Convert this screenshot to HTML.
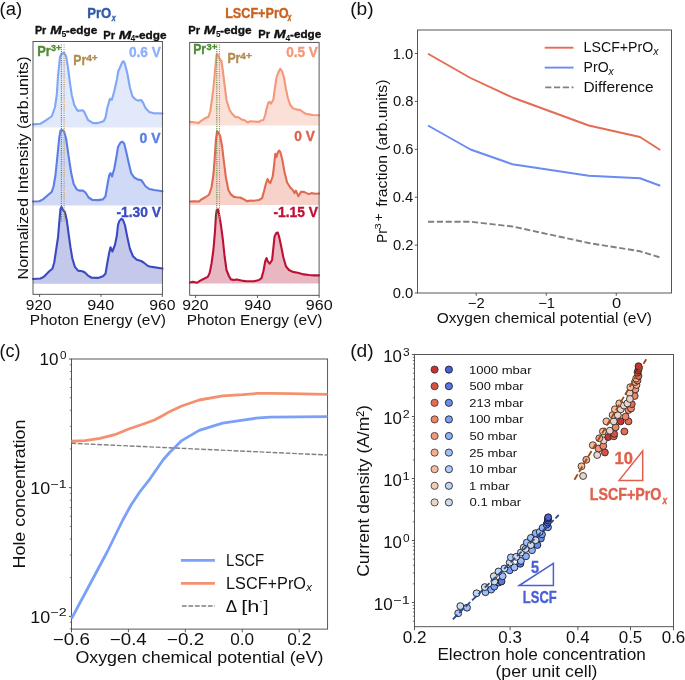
<!DOCTYPE html>
<html><head><meta charset="utf-8"><style>
html,body{margin:0;padding:0;background:#fff;overflow:hidden;}
svg{display:block;will-change:transform;}
text{font-family:"Liberation Sans",sans-serif;}
</style></head><body>
<svg width="685" height="680" viewBox="0 0 685 680">
<rect width="685" height="680" fill="#fff"/>
<polygon points="33.00,127.60 33.00,124.40 40.50,123.75 45.50,120.60 51.75,116.25 54.90,107.50 56.75,95.00 58.00,76.25 59.90,57.50 61.10,54.40 62.50,53.30 64.25,53.10 66.10,56.25 68.00,67.50 69.90,82.50 71.75,95.00 74.25,105.00 77.40,110.60 80.00,110.60 83.00,110.25 84.90,113.10 88.00,120.00 93.00,123.10 98.00,123.10 103.60,121.25 105.50,117.50 107.40,107.50 109.90,98.75 111.75,100.00 114.25,91.25 116.75,80.00 118.25,71.25 120.50,66.25 122.40,61.90 123.60,61.25 124.90,63.75 127.40,73.75 129.90,87.50 132.40,96.25 135.50,99.40 138.00,100.60 141.10,100.00 143.00,102.50 145.50,108.10 149.25,111.90 153.00,113.10 162.50,113.50 162.50,127.60" fill="#e2e9fb" stroke="none"/>
<polyline points="33.00,124.40 40.50,123.75 45.50,120.60 51.75,116.25 54.90,107.50 56.75,95.00 58.00,76.25 59.90,57.50 61.10,54.40 62.50,53.30 64.25,53.10 66.10,56.25 68.00,67.50 69.90,82.50 71.75,95.00 74.25,105.00 77.40,110.60 80.00,110.60 83.00,110.25 84.90,113.10 88.00,120.00 93.00,123.10 98.00,123.10 103.60,121.25 105.50,117.50 107.40,107.50 109.90,98.75 111.75,100.00 114.25,91.25 116.75,80.00 118.25,71.25 120.50,66.25 122.40,61.90 123.60,61.25 124.90,63.75 127.40,73.75 129.90,87.50 132.40,96.25 135.50,99.40 138.00,100.60 141.10,100.00 143.00,102.50 145.50,108.10 149.25,111.90 153.00,113.10 162.50,113.50" fill="none" stroke="#80a7f7" stroke-width="2.1" stroke-linejoin="round" stroke-linecap="round"/>
<polygon points="33.00,205.60 33.00,201.50 39.25,201.25 43.00,199.40 48.00,195.00 51.75,191.90 53.60,186.25 55.50,175.00 57.40,156.25 59.25,137.50 60.50,130.60 62.40,130.00 64.25,131.90 66.10,138.75 68.60,156.25 71.10,172.50 73.60,183.75 76.75,189.40 79.25,190.60 83.00,190.60 85.50,192.50 88.60,197.50 92.40,200.00 98.00,200.10 103.00,199.40 105.50,196.25 107.40,185.00 109.25,175.00 110.50,173.10 112.00,176.50 114.25,168.75 116.75,155.00 118.00,146.90 120.50,142.50 122.40,141.60 124.25,143.75 126.10,151.25 128.60,162.50 131.10,173.10 134.25,177.50 138.00,179.60 141.10,180.00 143.00,182.50 145.50,186.25 149.25,189.00 154.25,190.00 162.50,191.25 162.50,205.60" fill="#d0daf6" stroke="none"/>
<polyline points="33.00,201.50 39.25,201.25 43.00,199.40 48.00,195.00 51.75,191.90 53.60,186.25 55.50,175.00 57.40,156.25 59.25,137.50 60.50,130.60 62.40,130.00 64.25,131.90 66.10,138.75 68.60,156.25 71.10,172.50 73.60,183.75 76.75,189.40 79.25,190.60 83.00,190.60 85.50,192.50 88.60,197.50 92.40,200.00 98.00,200.10 103.00,199.40 105.50,196.25 107.40,185.00 109.25,175.00 110.50,173.10 112.00,176.50 114.25,168.75 116.75,155.00 118.00,146.90 120.50,142.50 122.40,141.60 124.25,143.75 126.10,151.25 128.60,162.50 131.10,173.10 134.25,177.50 138.00,179.60 141.10,180.00 143.00,182.50 145.50,186.25 149.25,189.00 154.25,190.00 162.50,191.25" fill="none" stroke="#5b7fe4" stroke-width="2.1" stroke-linejoin="round" stroke-linecap="round"/>
<polygon points="33.00,283.70 33.00,279.00 40.50,278.50 43.60,276.90 46.10,274.40 49.25,271.25 52.40,268.75 54.25,262.50 56.10,250.00 58.00,237.50 59.25,222.50 60.50,208.75 61.50,206.90 63.00,210.00 64.90,211.90 66.75,220.00 68.60,233.75 70.50,247.50 72.40,258.75 74.90,266.90 78.00,270.60 82.40,271.25 84.90,272.50 88.00,275.60 91.75,277.75 98.00,277.90 103.00,276.25 105.50,273.75 107.40,262.50 109.25,252.50 110.50,247.25 112.40,251.50 114.90,245.00 116.75,236.25 118.00,225.00 119.25,221.25 121.10,218.75 123.00,220.00 124.90,225.00 127.40,237.50 129.90,248.75 133.00,256.25 136.75,259.75 141.10,261.00 143.60,262.50 148.00,266.00 151.75,266.90 162.50,268.50 162.50,283.70" fill="#c4c8ea" stroke="none"/>
<polyline points="33.00,279.00 40.50,278.50 43.60,276.90 46.10,274.40 49.25,271.25 52.40,268.75 54.25,262.50 56.10,250.00 58.00,237.50 59.25,222.50 60.50,208.75 61.50,206.90 63.00,210.00 64.90,211.90 66.75,220.00 68.60,233.75 70.50,247.50 72.40,258.75 74.90,266.90 78.00,270.60 82.40,271.25 84.90,272.50 88.00,275.60 91.75,277.75 98.00,277.90 103.00,276.25 105.50,273.75 107.40,262.50 109.25,252.50 110.50,247.25 112.40,251.50 114.90,245.00 116.75,236.25 118.00,225.00 119.25,221.25 121.10,218.75 123.00,220.00 124.90,225.00 127.40,237.50 129.90,248.75 133.00,256.25 136.75,259.75 141.10,261.00 143.60,262.50 148.00,266.00 151.75,266.90 162.50,268.50" fill="none" stroke="#3a4bc2" stroke-width="2.1" stroke-linejoin="round" stroke-linecap="round"/>
<polygon points="190.00,125.40 190.00,121.90 194.00,122.25 196.00,122.50 198.40,123.10 201.50,120.60 205.25,118.10 208.40,116.90 210.25,111.25 212.10,98.75 214.00,82.50 215.25,67.50 216.50,55.00 217.75,54.40 219.60,58.75 221.50,61.25 222.75,70.00 224.60,85.00 226.50,100.00 228.40,106.25 229.60,110.00 232.10,113.75 235.25,116.90 238.40,117.25 241.50,119.40 245.25,120.60 247.75,122.50 250.25,121.25 254.00,121.50 259.00,121.90 260.90,120.60 263.40,120.00 265.25,115.00 266.50,108.75 268.40,102.50 269.60,101.90 270.90,103.75 273.40,99.40 274.60,90.00 276.50,77.50 278.40,72.50 280.25,68.75 282.10,71.25 284.00,77.50 285.90,88.75 287.75,97.50 290.25,105.00 292.75,108.10 295.90,109.40 300.25,110.00 302.75,111.90 305.25,113.50 309.00,114.40 312.75,115.00 319.00,115.25 319.00,125.40" fill="#fbe0d7" stroke="none"/>
<polyline points="190.00,121.90 194.00,122.25 196.00,122.50 198.40,123.10 201.50,120.60 205.25,118.10 208.40,116.90 210.25,111.25 212.10,98.75 214.00,82.50 215.25,67.50 216.50,55.00 217.75,54.40 219.60,58.75 221.50,61.25 222.75,70.00 224.60,85.00 226.50,100.00 228.40,106.25 229.60,110.00 232.10,113.75 235.25,116.90 238.40,117.25 241.50,119.40 245.25,120.60 247.75,122.50 250.25,121.25 254.00,121.50 259.00,121.90 260.90,120.60 263.40,120.00 265.25,115.00 266.50,108.75 268.40,102.50 269.60,101.90 270.90,103.75 273.40,99.40 274.60,90.00 276.50,77.50 278.40,72.50 280.25,68.75 282.10,71.25 284.00,77.50 285.90,88.75 287.75,97.50 290.25,105.00 292.75,108.10 295.90,109.40 300.25,110.00 302.75,111.90 305.25,113.50 309.00,114.40 312.75,115.00 319.00,115.25" fill="none" stroke="#f4987a" stroke-width="2.1" stroke-linejoin="round" stroke-linecap="round"/>
<polygon points="190.00,205.00 190.00,201.50 194.00,201.25 199.00,201.50 201.50,199.40 205.25,197.25 209.00,194.75 211.50,187.50 213.40,175.00 214.60,160.00 215.90,140.00 217.10,131.25 218.40,132.50 220.25,136.25 222.10,146.25 224.00,162.50 225.90,177.50 228.40,190.00 230.90,194.40 234.00,196.90 236.50,197.25 240.25,197.50 244.00,199.40 247.10,201.25 250.25,200.60 254.00,200.70 259.00,200.00 262.10,198.10 264.00,191.25 265.90,183.75 267.50,179.00 269.00,181.90 270.25,183.10 272.75,176.25 274.00,166.25 275.25,153.75 276.50,156.90 277.75,152.50 279.00,150.60 280.25,151.90 282.10,158.75 284.60,172.50 287.10,182.50 290.25,187.50 292.75,190.00 294.60,193.10 295.90,190.60 298.40,196.25 300.90,191.90 304.00,191.90 306.50,193.10 309.00,194.10 311.50,193.10 315.25,193.75 319.00,193.50 319.00,205.00" fill="#f6d2ca" stroke="none"/>
<polyline points="190.00,201.50 194.00,201.25 199.00,201.50 201.50,199.40 205.25,197.25 209.00,194.75 211.50,187.50 213.40,175.00 214.60,160.00 215.90,140.00 217.10,131.25 218.40,132.50 220.25,136.25 222.10,146.25 224.00,162.50 225.90,177.50 228.40,190.00 230.90,194.40 234.00,196.90 236.50,197.25 240.25,197.50 244.00,199.40 247.10,201.25 250.25,200.60 254.00,200.70 259.00,200.00 262.10,198.10 264.00,191.25 265.90,183.75 267.50,179.00 269.00,181.90 270.25,183.10 272.75,176.25 274.00,166.25 275.25,153.75 276.50,156.90 277.75,152.50 279.00,150.60 280.25,151.90 282.10,158.75 284.60,172.50 287.10,182.50 290.25,187.50 292.75,190.00 294.60,193.10 295.90,190.60 298.40,196.25 300.90,191.90 304.00,191.90 306.50,193.10 309.00,194.10 311.50,193.10 315.25,193.75 319.00,193.50" fill="none" stroke="#e06a50" stroke-width="2.1" stroke-linejoin="round" stroke-linecap="round"/>
<polygon points="190.00,283.60 190.00,282.50 192.75,281.90 197.10,282.75 200.25,280.60 203.40,279.00 207.75,276.90 209.60,273.10 211.50,263.75 213.40,250.00 215.00,231.25 215.90,216.25 216.75,210.00 218.00,209.40 219.00,213.75 220.90,225.00 222.75,238.75 224.60,256.25 226.50,270.00 229.00,276.25 230.90,279.40 234.00,280.00 236.50,279.40 241.50,280.60 246.50,281.25 254.00,281.30 259.00,280.00 261.50,278.10 263.40,271.25 265.25,261.25 266.50,258.10 267.75,261.25 269.60,263.75 272.10,260.00 273.40,247.50 274.60,236.25 276.50,232.75 277.75,232.50 279.00,236.25 280.90,245.00 283.40,257.50 285.90,266.25 289.00,270.00 292.75,271.90 297.75,272.75 304.00,274.40 309.00,275.00 314.00,275.40 319.00,275.40 319.00,283.60" fill="#e8b7c2" stroke="none"/>
<polyline points="190.00,282.50 192.75,281.90 197.10,282.75 200.25,280.60 203.40,279.00 207.75,276.90 209.60,273.10 211.50,263.75 213.40,250.00 215.00,231.25 215.90,216.25 216.75,210.00 218.00,209.40 219.00,213.75 220.90,225.00 222.75,238.75 224.60,256.25 226.50,270.00 229.00,276.25 230.90,279.40 234.00,280.00 236.50,279.40 241.50,280.60 246.50,281.25 254.00,281.30 259.00,280.00 261.50,278.10 263.40,271.25 265.25,261.25 266.50,258.10 267.75,261.25 269.60,263.75 272.10,260.00 273.40,247.50 274.60,236.25 276.50,232.75 277.75,232.50 279.00,236.25 280.90,245.00 283.40,257.50 285.90,266.25 289.00,270.00 292.75,271.90 297.75,272.75 304.00,274.40 309.00,275.00 314.00,275.40 319.00,275.40" fill="none" stroke="#bd1034" stroke-width="2.1" stroke-linejoin="round" stroke-linecap="round"/>
<line x1="61.4" y1="44.5" x2="61.4" y2="222.0" stroke="#4e8a3a" stroke-width="1.1" stroke-dasharray="1.1,1.1"/>
<line x1="64.1" y1="44.5" x2="64.1" y2="222.0" stroke="#b8925a" stroke-width="1.1" stroke-dasharray="1.1,1.1"/>
<line x1="216.8" y1="44.5" x2="216.8" y2="220.6" stroke="#4e8a3a" stroke-width="1.1" stroke-dasharray="1.1,1.1"/>
<line x1="219.5" y1="44.5" x2="219.5" y2="220.6" stroke="#b8925a" stroke-width="1.1" stroke-dasharray="1.1,1.1"/>
<rect x="33" y="41.5" width="129.4" height="252.8" fill="none" stroke="#454545" stroke-width="0.9"/>
<rect x="189.7" y="42.4" width="129.4" height="252.9" fill="none" stroke="#454545" stroke-width="0.9"/>
<line x1="39.6" y1="294.3" x2="39.6" y2="296.9" stroke="#454545" stroke-width="0.9"/>
<line x1="101" y1="294.3" x2="101" y2="296.9" stroke="#454545" stroke-width="0.9"/>
<line x1="162.3" y1="294.3" x2="162.3" y2="296.9" stroke="#454545" stroke-width="0.9"/>
<line x1="195.6" y1="295.3" x2="195.6" y2="297.9" stroke="#454545" stroke-width="0.9"/>
<line x1="257.5" y1="295.3" x2="257.5" y2="297.9" stroke="#454545" stroke-width="0.9"/>
<line x1="319.1" y1="295.3" x2="319.1" y2="297.9" stroke="#454545" stroke-width="0.9"/>
<rect x="417.5" y="30" width="254" height="263" fill="none" stroke="#454545" stroke-width="0.9"/>
<line x1="414.8" y1="293.00" x2="417.5" y2="293.00" stroke="#454545" stroke-width="0.9"/>
<line x1="414.8" y1="245.10" x2="417.5" y2="245.10" stroke="#454545" stroke-width="0.9"/>
<line x1="414.8" y1="197.20" x2="417.5" y2="197.20" stroke="#454545" stroke-width="0.9"/>
<line x1="414.8" y1="149.30" x2="417.5" y2="149.30" stroke="#454545" stroke-width="0.9"/>
<line x1="414.8" y1="101.40" x2="417.5" y2="101.40" stroke="#454545" stroke-width="0.9"/>
<line x1="414.8" y1="53.50" x2="417.5" y2="53.50" stroke="#454545" stroke-width="0.9"/>
<line x1="476.25" y1="293" x2="476.25" y2="295.8" stroke="#454545" stroke-width="0.9"/>
<line x1="546.25" y1="293" x2="546.25" y2="295.8" stroke="#454545" stroke-width="0.9"/>
<line x1="616.25" y1="293" x2="616.25" y2="295.8" stroke="#454545" stroke-width="0.9"/>
<polyline points="428.00,53.75 470.50,78.00 512.50,97.50 588.75,125.50 640.00,137.00 660.25,150.00" fill="none" stroke="#e36c55" stroke-width="1.9" stroke-linejoin="round"/>
<polyline points="428.00,125.50 470.50,149.50 512.50,164.25 588.75,175.75 640.00,178.25 660.25,185.75" fill="none" stroke="#6a8bef" stroke-width="1.9" stroke-linejoin="round"/>
<polyline points="428.00,221.75 470.50,221.75 512.50,226.50 588.75,243.00 640.00,251.25 660.25,257.50" fill="none" stroke="#808080" stroke-width="1.9" stroke-dasharray="6.2,2.6"/>
<line x1="544.7" y1="47.7" x2="573.5" y2="47.7" stroke="#e36c55" stroke-width="1.9"/>
<line x1="544.7" y1="67.6" x2="573.5" y2="67.6" stroke="#6a8bef" stroke-width="1.9"/>
<line x1="545.2" y1="87.4" x2="573.5" y2="87.4" stroke="#808080" stroke-width="1.9" stroke-dasharray="6.2,2.6"/>
<rect x="71.5" y="359.0" width="256.1" height="270.1" fill="none" stroke="#454545" stroke-width="0.9"/>
<line x1="68.9" y1="359.00" x2="71.5" y2="359.00" stroke="#454545" stroke-width="0.9"/>
<line x1="68.9" y1="487.70" x2="71.5" y2="487.70" stroke="#454545" stroke-width="0.9"/>
<line x1="68.9" y1="616.40" x2="71.5" y2="616.40" stroke="#454545" stroke-width="0.9"/>
<line x1="69.8" y1="628.87" x2="71.5" y2="628.87" stroke="#454545" stroke-width="0.7"/>
<line x1="69.8" y1="622.29" x2="71.5" y2="622.29" stroke="#454545" stroke-width="0.7"/>
<line x1="69.8" y1="577.66" x2="71.5" y2="577.66" stroke="#454545" stroke-width="0.7"/>
<line x1="69.8" y1="554.99" x2="71.5" y2="554.99" stroke="#454545" stroke-width="0.7"/>
<line x1="69.8" y1="538.91" x2="71.5" y2="538.91" stroke="#454545" stroke-width="0.7"/>
<line x1="69.8" y1="526.44" x2="71.5" y2="526.44" stroke="#454545" stroke-width="0.7"/>
<line x1="69.8" y1="516.25" x2="71.5" y2="516.25" stroke="#454545" stroke-width="0.7"/>
<line x1="69.8" y1="507.64" x2="71.5" y2="507.64" stroke="#454545" stroke-width="0.7"/>
<line x1="69.8" y1="500.17" x2="71.5" y2="500.17" stroke="#454545" stroke-width="0.7"/>
<line x1="69.8" y1="493.59" x2="71.5" y2="493.59" stroke="#454545" stroke-width="0.7"/>
<line x1="69.8" y1="448.96" x2="71.5" y2="448.96" stroke="#454545" stroke-width="0.7"/>
<line x1="69.8" y1="426.29" x2="71.5" y2="426.29" stroke="#454545" stroke-width="0.7"/>
<line x1="69.8" y1="410.21" x2="71.5" y2="410.21" stroke="#454545" stroke-width="0.7"/>
<line x1="69.8" y1="397.74" x2="71.5" y2="397.74" stroke="#454545" stroke-width="0.7"/>
<line x1="69.8" y1="387.55" x2="71.5" y2="387.55" stroke="#454545" stroke-width="0.7"/>
<line x1="69.8" y1="378.94" x2="71.5" y2="378.94" stroke="#454545" stroke-width="0.7"/>
<line x1="69.8" y1="371.47" x2="71.5" y2="371.47" stroke="#454545" stroke-width="0.7"/>
<line x1="69.8" y1="364.89" x2="71.5" y2="364.89" stroke="#454545" stroke-width="0.7"/>
<line x1="71.50" y1="629.1" x2="71.50" y2="632.3" stroke="#454545" stroke-width="0.9"/>
<line x1="128.42" y1="629.1" x2="128.42" y2="632.3" stroke="#454545" stroke-width="0.9"/>
<line x1="185.34" y1="629.1" x2="185.34" y2="632.3" stroke="#454545" stroke-width="0.9"/>
<line x1="242.26" y1="629.1" x2="242.26" y2="632.3" stroke="#454545" stroke-width="0.9"/>
<line x1="299.18" y1="629.1" x2="299.18" y2="632.3" stroke="#454545" stroke-width="0.9"/>
<polyline points="71.40,441.25 85.00,440.60 100.00,438.40 114.70,434.70 129.40,428.80 144.10,423.70 154.40,420.00 162.00,416.00 170.00,411.40 181.70,406.00 199.20,400.00 222.60,395.80 243.00,394.60 257.60,393.40 270.00,393.30 290.00,393.70 327.50,394.30" fill="none" stroke="#f4906f" stroke-width="2.8" stroke-linejoin="round"/>
<polyline points="71.50,618.60 87.50,588.75 107.50,551.25 122.80,520.00 130.90,505.30 139.70,492.00 150.00,478.80 163.20,459.70 170.00,452.00 173.50,448.70 181.70,440.60 199.20,430.40 222.60,423.10 243.00,420.10 256.10,418.20 270.00,417.20 327.50,416.60" fill="none" stroke="#7ba0f8" stroke-width="2.8" stroke-linejoin="round"/>
<line x1="71.3" y1="443.3" x2="327.5" y2="455" stroke="#808080" stroke-width="1.4" stroke-dasharray="4.8,1.7"/>
<line x1="180.9" y1="560.3" x2="214.9" y2="560.3" stroke="#7ba0f8" stroke-width="2.8"/>
<line x1="180.9" y1="583.3" x2="214.9" y2="583.3" stroke="#f4906f" stroke-width="2.8"/>
<line x1="181.9" y1="606" x2="214.9" y2="606" stroke="#808080" stroke-width="1.4" stroke-dasharray="4.8,1.7"/>
<rect x="414.5" y="354.5" width="259" height="272.2" fill="none" stroke="#454545" stroke-width="0.9"/>
<line x1="411.9" y1="354.50" x2="414.5" y2="354.50" stroke="#454545" stroke-width="0.9"/>
<line x1="411.9" y1="416.50" x2="414.5" y2="416.50" stroke="#454545" stroke-width="0.9"/>
<line x1="411.9" y1="478.50" x2="414.5" y2="478.50" stroke="#454545" stroke-width="0.9"/>
<line x1="411.9" y1="540.50" x2="414.5" y2="540.50" stroke="#454545" stroke-width="0.9"/>
<line x1="411.9" y1="602.50" x2="414.5" y2="602.50" stroke="#454545" stroke-width="0.9"/>
<line x1="412.8" y1="621.16" x2="414.5" y2="621.16" stroke="#454545" stroke-width="0.7"/>
<line x1="412.8" y1="616.25" x2="414.5" y2="616.25" stroke="#454545" stroke-width="0.7"/>
<line x1="412.8" y1="612.10" x2="414.5" y2="612.10" stroke="#454545" stroke-width="0.7"/>
<line x1="412.8" y1="608.51" x2="414.5" y2="608.51" stroke="#454545" stroke-width="0.7"/>
<line x1="412.8" y1="605.34" x2="414.5" y2="605.34" stroke="#454545" stroke-width="0.7"/>
<line x1="412.8" y1="583.84" x2="414.5" y2="583.84" stroke="#454545" stroke-width="0.7"/>
<line x1="412.8" y1="572.92" x2="414.5" y2="572.92" stroke="#454545" stroke-width="0.7"/>
<line x1="412.8" y1="565.17" x2="414.5" y2="565.17" stroke="#454545" stroke-width="0.7"/>
<line x1="412.8" y1="559.16" x2="414.5" y2="559.16" stroke="#454545" stroke-width="0.7"/>
<line x1="412.8" y1="554.25" x2="414.5" y2="554.25" stroke="#454545" stroke-width="0.7"/>
<line x1="412.8" y1="550.10" x2="414.5" y2="550.10" stroke="#454545" stroke-width="0.7"/>
<line x1="412.8" y1="546.51" x2="414.5" y2="546.51" stroke="#454545" stroke-width="0.7"/>
<line x1="412.8" y1="543.34" x2="414.5" y2="543.34" stroke="#454545" stroke-width="0.7"/>
<line x1="412.8" y1="521.84" x2="414.5" y2="521.84" stroke="#454545" stroke-width="0.7"/>
<line x1="412.8" y1="510.92" x2="414.5" y2="510.92" stroke="#454545" stroke-width="0.7"/>
<line x1="412.8" y1="503.17" x2="414.5" y2="503.17" stroke="#454545" stroke-width="0.7"/>
<line x1="412.8" y1="497.16" x2="414.5" y2="497.16" stroke="#454545" stroke-width="0.7"/>
<line x1="412.8" y1="492.25" x2="414.5" y2="492.25" stroke="#454545" stroke-width="0.7"/>
<line x1="412.8" y1="488.10" x2="414.5" y2="488.10" stroke="#454545" stroke-width="0.7"/>
<line x1="412.8" y1="484.51" x2="414.5" y2="484.51" stroke="#454545" stroke-width="0.7"/>
<line x1="412.8" y1="481.34" x2="414.5" y2="481.34" stroke="#454545" stroke-width="0.7"/>
<line x1="412.8" y1="459.84" x2="414.5" y2="459.84" stroke="#454545" stroke-width="0.7"/>
<line x1="412.8" y1="448.92" x2="414.5" y2="448.92" stroke="#454545" stroke-width="0.7"/>
<line x1="412.8" y1="441.17" x2="414.5" y2="441.17" stroke="#454545" stroke-width="0.7"/>
<line x1="412.8" y1="435.16" x2="414.5" y2="435.16" stroke="#454545" stroke-width="0.7"/>
<line x1="412.8" y1="430.25" x2="414.5" y2="430.25" stroke="#454545" stroke-width="0.7"/>
<line x1="412.8" y1="426.10" x2="414.5" y2="426.10" stroke="#454545" stroke-width="0.7"/>
<line x1="412.8" y1="422.51" x2="414.5" y2="422.51" stroke="#454545" stroke-width="0.7"/>
<line x1="412.8" y1="419.34" x2="414.5" y2="419.34" stroke="#454545" stroke-width="0.7"/>
<line x1="412.8" y1="397.84" x2="414.5" y2="397.84" stroke="#454545" stroke-width="0.7"/>
<line x1="412.8" y1="386.92" x2="414.5" y2="386.92" stroke="#454545" stroke-width="0.7"/>
<line x1="412.8" y1="379.17" x2="414.5" y2="379.17" stroke="#454545" stroke-width="0.7"/>
<line x1="412.8" y1="373.16" x2="414.5" y2="373.16" stroke="#454545" stroke-width="0.7"/>
<line x1="412.8" y1="368.25" x2="414.5" y2="368.25" stroke="#454545" stroke-width="0.7"/>
<line x1="412.8" y1="364.10" x2="414.5" y2="364.10" stroke="#454545" stroke-width="0.7"/>
<line x1="412.8" y1="360.51" x2="414.5" y2="360.51" stroke="#454545" stroke-width="0.7"/>
<line x1="412.8" y1="357.34" x2="414.5" y2="357.34" stroke="#454545" stroke-width="0.7"/>
<line x1="414.50" y1="626.7" x2="414.50" y2="630.2" stroke="#454545" stroke-width="0.9"/>
<line x1="510.08" y1="626.7" x2="510.08" y2="630.2" stroke="#454545" stroke-width="0.9"/>
<line x1="577.90" y1="626.7" x2="577.90" y2="630.2" stroke="#454545" stroke-width="0.9"/>
<line x1="630.50" y1="626.7" x2="630.50" y2="630.2" stroke="#454545" stroke-width="0.9"/>
<line x1="673.48" y1="626.7" x2="673.48" y2="630.2" stroke="#454545" stroke-width="0.9"/>
<circle cx="583.1" cy="476.0" r="3.45" fill="#e9d5cb" stroke="#222" stroke-width="0.85"/>
<circle cx="581.5" cy="466.3" r="3.45" fill="#f6bda2" stroke="#222" stroke-width="0.85"/>
<circle cx="586.3" cy="459.8" r="3.45" fill="#f7ac8e" stroke="#222" stroke-width="0.85"/>
<circle cx="597.2" cy="455.0" r="3.45" fill="#e9d5cb" stroke="#222" stroke-width="0.85"/>
<circle cx="604.9" cy="452.5" r="3.45" fill="#d65244" stroke="#222" stroke-width="0.85"/>
<circle cx="598.5" cy="448.5" r="3.45" fill="#f4987a" stroke="#222" stroke-width="0.85"/>
<circle cx="603.3" cy="446.0" r="3.45" fill="#ee8468" stroke="#222" stroke-width="0.85"/>
<circle cx="592.8" cy="445.2" r="3.45" fill="#f6bda2" stroke="#222" stroke-width="0.85"/>
<circle cx="603.7" cy="440.4" r="3.45" fill="#e9d5cb" stroke="#222" stroke-width="0.85"/>
<circle cx="599.3" cy="438.3" r="3.45" fill="#f7ac8e" stroke="#222" stroke-width="0.85"/>
<circle cx="608.2" cy="437.1" r="3.45" fill="#c53334" stroke="#222" stroke-width="0.85"/>
<circle cx="613.8" cy="436.3" r="3.45" fill="#e36c55" stroke="#222" stroke-width="0.85"/>
<circle cx="614.1" cy="433.9" r="3.45" fill="#d65244" stroke="#222" stroke-width="0.85"/>
<circle cx="624.4" cy="431.5" r="3.45" fill="#e36c55" stroke="#222" stroke-width="0.85"/>
<circle cx="602.9" cy="431.5" r="3.45" fill="#f6bda2" stroke="#222" stroke-width="0.85"/>
<circle cx="609.8" cy="430.7" r="3.45" fill="#e9d5cb" stroke="#222" stroke-width="0.85"/>
<circle cx="615.6" cy="427.3" r="3.45" fill="#ee8468" stroke="#222" stroke-width="0.85"/>
<circle cx="620.7" cy="421.4" r="3.45" fill="#c53334" stroke="#222" stroke-width="0.85"/>
<circle cx="628.5" cy="421.4" r="3.45" fill="#e36c55" stroke="#222" stroke-width="0.85"/>
<circle cx="606.4" cy="421.4" r="3.45" fill="#f6bda2" stroke="#222" stroke-width="0.85"/>
<circle cx="613.75" cy="421.4" r="3.45" fill="#e9d5cb" stroke="#222" stroke-width="0.85"/>
<circle cx="625.5" cy="416.6" r="3.45" fill="#ee8468" stroke="#222" stroke-width="0.85"/>
<circle cx="612.6" cy="415.1" r="3.45" fill="#f6bda2" stroke="#222" stroke-width="0.85"/>
<circle cx="617.8" cy="415.1" r="3.45" fill="#e9d5cb" stroke="#222" stroke-width="0.85"/>
<circle cx="628.5" cy="410.0" r="3.45" fill="#f4987a" stroke="#222" stroke-width="0.85"/>
<circle cx="631.0" cy="408.5" r="3.45" fill="#ee8468" stroke="#222" stroke-width="0.85"/>
<circle cx="614.9" cy="409.3" r="3.45" fill="#f6bda2" stroke="#222" stroke-width="0.85"/>
<circle cx="620.7" cy="409.3" r="3.45" fill="#e9d5cb" stroke="#222" stroke-width="0.85"/>
<circle cx="631.8" cy="404.1" r="3.45" fill="#e36c55" stroke="#222" stroke-width="0.85"/>
<circle cx="619.3" cy="403.4" r="3.45" fill="#f6bda2" stroke="#222" stroke-width="0.85"/>
<circle cx="624.0" cy="405.6" r="3.45" fill="#e9d5cb" stroke="#222" stroke-width="0.85"/>
<circle cx="627.4" cy="403.4" r="3.45" fill="#e9d5cb" stroke="#222" stroke-width="0.85"/>
<circle cx="634.7" cy="396.0" r="3.45" fill="#ee8468" stroke="#222" stroke-width="0.85"/>
<circle cx="629.6" cy="393.1" r="3.45" fill="#f2cbb7" stroke="#222" stroke-width="0.85"/>
<circle cx="629.9" cy="399.0" r="3.45" fill="#e9d5cb" stroke="#222" stroke-width="0.85"/>
<circle cx="635.4" cy="389.4" r="3.45" fill="#f4987a" stroke="#222" stroke-width="0.85"/>
<circle cx="630.3" cy="387.2" r="3.45" fill="#f6bda2" stroke="#222" stroke-width="0.85"/>
<circle cx="636.5" cy="385.0" r="3.45" fill="#f7ac8e" stroke="#222" stroke-width="0.85"/>
<circle cx="635.0" cy="382.0" r="3.45" fill="#f7ac8e" stroke="#222" stroke-width="0.85"/>
<circle cx="637.5" cy="380.5" r="3.45" fill="#ee8468" stroke="#222" stroke-width="0.85"/>
<circle cx="636.2" cy="378.5" r="3.45" fill="#f6bda2" stroke="#222" stroke-width="0.85"/>
<circle cx="638.5" cy="376.0" r="3.45" fill="#e36c55" stroke="#222" stroke-width="0.85"/>
<circle cx="637.6" cy="372.6" r="3.45" fill="#d65244" stroke="#222" stroke-width="0.85"/>
<circle cx="638.2" cy="370.3" r="3.45" fill="#c53334" stroke="#222" stroke-width="0.85"/>
<circle cx="639.0" cy="368.0" r="3.45" fill="#d65244" stroke="#222" stroke-width="0.85"/>
<circle cx="638.5" cy="366.2" r="3.45" fill="#c53334" stroke="#222" stroke-width="0.85"/>
<line x1="574.4" y1="479.75" x2="646.25" y2="359.25" stroke="#9c4a14" stroke-width="1.8" stroke-dasharray="6.5,2.5"/>
<circle cx="458.2" cy="613.3" r="3.45" fill="#afcafc" stroke="#111" stroke-width="0.85"/>
<circle cx="460.3" cy="606.1" r="3.45" fill="#cfdaea" stroke="#111" stroke-width="0.85"/>
<circle cx="467.0" cy="607.7" r="3.45" fill="#9ebeff" stroke="#111" stroke-width="0.85"/>
<circle cx="476.6" cy="593.3" r="3.45" fill="#c0d4f5" stroke="#111" stroke-width="0.85"/>
<circle cx="485.5" cy="592.2" r="3.45" fill="#9ebeff" stroke="#111" stroke-width="0.85"/>
<circle cx="484.8" cy="587.1" r="3.45" fill="#cfdaea" stroke="#111" stroke-width="0.85"/>
<circle cx="491.2" cy="589.6" r="3.45" fill="#8db0fe" stroke="#111" stroke-width="0.85"/>
<circle cx="494.3" cy="586.6" r="3.45" fill="#7b9ff9" stroke="#111" stroke-width="0.85"/>
<circle cx="498.5" cy="582.6" r="3.45" fill="#6a8bef" stroke="#111" stroke-width="0.85"/>
<circle cx="501.5" cy="581.5" r="3.45" fill="#5977e3" stroke="#111" stroke-width="0.85"/>
<circle cx="494.4" cy="581.5" r="3.45" fill="#cfdaea" stroke="#111" stroke-width="0.85"/>
<circle cx="502.6" cy="576.2" r="3.45" fill="#9ebeff" stroke="#111" stroke-width="0.85"/>
<circle cx="493.8" cy="576.2" r="3.45" fill="#cfdaea" stroke="#111" stroke-width="0.85"/>
<circle cx="509.7" cy="570.3" r="3.45" fill="#7b9ff9" stroke="#111" stroke-width="0.85"/>
<circle cx="504.4" cy="568.5" r="3.45" fill="#c0d4f5" stroke="#111" stroke-width="0.85"/>
<circle cx="498.5" cy="571.5" r="3.45" fill="#c0d4f5" stroke="#111" stroke-width="0.85"/>
<circle cx="514.4" cy="567.4" r="3.45" fill="#9ebeff" stroke="#111" stroke-width="0.85"/>
<circle cx="520.3" cy="563.8" r="3.45" fill="#5977e3" stroke="#111" stroke-width="0.85"/>
<circle cx="520.9" cy="560.9" r="3.45" fill="#9ebeff" stroke="#111" stroke-width="0.85"/>
<circle cx="509.7" cy="562.6" r="3.45" fill="#cfdaea" stroke="#111" stroke-width="0.85"/>
<circle cx="510.9" cy="557.4" r="3.45" fill="#afcafc" stroke="#111" stroke-width="0.85"/>
<circle cx="516.2" cy="556.8" r="3.45" fill="#cfdaea" stroke="#111" stroke-width="0.85"/>
<circle cx="526.0" cy="556.3" r="3.45" fill="#8db0fe" stroke="#111" stroke-width="0.85"/>
<circle cx="532.0" cy="550.2" r="3.45" fill="#8db0fe" stroke="#111" stroke-width="0.85"/>
<circle cx="537.4" cy="545.0" r="3.45" fill="#6a8bef" stroke="#111" stroke-width="0.85"/>
<circle cx="520.9" cy="552.6" r="3.45" fill="#cfdaea" stroke="#111" stroke-width="0.85"/>
<circle cx="523.8" cy="547.4" r="3.45" fill="#cfdaea" stroke="#111" stroke-width="0.85"/>
<circle cx="525.6" cy="549.0" r="3.45" fill="#cfdaea" stroke="#111" stroke-width="0.85"/>
<circle cx="526.8" cy="542.6" r="3.45" fill="#9ebeff" stroke="#111" stroke-width="0.85"/>
<circle cx="530.9" cy="545.0" r="3.45" fill="#cfdaea" stroke="#111" stroke-width="0.85"/>
<circle cx="540.9" cy="538.5" r="3.45" fill="#6a8bef" stroke="#111" stroke-width="0.85"/>
<circle cx="530.9" cy="537.9" r="3.45" fill="#9ebeff" stroke="#111" stroke-width="0.85"/>
<circle cx="535.6" cy="540.2" r="3.45" fill="#cfdaea" stroke="#111" stroke-width="0.85"/>
<circle cx="542.0" cy="534.4" r="3.45" fill="#7b9ff9" stroke="#111" stroke-width="0.85"/>
<circle cx="535.6" cy="533.2" r="3.45" fill="#8db0fe" stroke="#111" stroke-width="0.85"/>
<circle cx="539.7" cy="532.0" r="3.45" fill="#9ebeff" stroke="#111" stroke-width="0.85"/>
<circle cx="548.0" cy="527.3" r="3.45" fill="#7b9ff9" stroke="#111" stroke-width="0.85"/>
<circle cx="542.6" cy="527.9" r="3.45" fill="#8db0fe" stroke="#111" stroke-width="0.85"/>
<circle cx="546.6" cy="524.5" r="3.45" fill="#6a8bef" stroke="#111" stroke-width="0.85"/>
<circle cx="547.5" cy="522.5" r="3.45" fill="#5977e3" stroke="#111" stroke-width="0.85"/>
<circle cx="548.0" cy="520.5" r="3.45" fill="#4961d2" stroke="#111" stroke-width="0.85"/>
<circle cx="547.9" cy="518.5" r="3.45" fill="#5977e3" stroke="#111" stroke-width="0.85"/>
<circle cx="548.2" cy="517.3" r="3.45" fill="#4961d2" stroke="#111" stroke-width="0.85"/>
<line x1="452.8" y1="619.3" x2="558.75" y2="515" stroke="#2c4a86" stroke-width="1.8" stroke-dasharray="6.5,2.5"/>
<circle cx="434.6" cy="369.6" r="3.6" fill="#c53334" stroke="#333" stroke-width="0.8"/>
<circle cx="448.9" cy="369.6" r="3.6" fill="#4961d2" stroke="#111" stroke-width="0.8"/>
<circle cx="434.6" cy="386.2" r="3.6" fill="#d65244" stroke="#333" stroke-width="0.8"/>
<circle cx="448.9" cy="386.2" r="3.6" fill="#5977e3" stroke="#111" stroke-width="0.8"/>
<circle cx="434.6" cy="402.8" r="3.6" fill="#e36c55" stroke="#333" stroke-width="0.8"/>
<circle cx="448.9" cy="402.8" r="3.6" fill="#6a8bef" stroke="#111" stroke-width="0.8"/>
<circle cx="434.6" cy="419.4" r="3.6" fill="#ee8468" stroke="#333" stroke-width="0.8"/>
<circle cx="448.9" cy="419.4" r="3.6" fill="#7b9ff9" stroke="#111" stroke-width="0.8"/>
<circle cx="434.6" cy="436.0" r="3.6" fill="#f4987a" stroke="#333" stroke-width="0.8"/>
<circle cx="448.9" cy="436.0" r="3.6" fill="#8db0fe" stroke="#111" stroke-width="0.8"/>
<circle cx="434.6" cy="452.6" r="3.6" fill="#f7ac8e" stroke="#333" stroke-width="0.8"/>
<circle cx="448.9" cy="452.6" r="3.6" fill="#9ebeff" stroke="#111" stroke-width="0.8"/>
<circle cx="434.6" cy="469.2" r="3.6" fill="#f6bda2" stroke="#333" stroke-width="0.8"/>
<circle cx="448.9" cy="469.2" r="3.6" fill="#afcafc" stroke="#111" stroke-width="0.8"/>
<circle cx="434.6" cy="485.8" r="3.6" fill="#f2cbb7" stroke="#333" stroke-width="0.8"/>
<circle cx="448.9" cy="485.8" r="3.6" fill="#c0d4f5" stroke="#111" stroke-width="0.8"/>
<circle cx="434.6" cy="502.4" r="3.6" fill="#e9d5cb" stroke="#333" stroke-width="0.8"/>
<circle cx="448.9" cy="502.4" r="3.6" fill="#cfdaea" stroke="#111" stroke-width="0.8"/>
<polygon points="619.1,480.4 642.7,451 642.7,480.4" fill="none" stroke="#e0604c" stroke-width="1.5"/>
<polygon points="519.2,585.5 553.4,563.4 553.4,585.5" fill="none" stroke="#4a60d6" stroke-width="1.5"/>
<text x="-0.41" y="14.60" font-size="19.20" font-weight="normal" font-style="normal" fill="#111" textLength="22.56" lengthAdjust="spacingAndGlyphs">(a)</text>
<text x="350.15" y="14.60" font-size="19.20" font-weight="normal" font-style="normal" fill="#111" textLength="23.45" lengthAdjust="spacingAndGlyphs">(b)</text>
<text x="-0.58" y="357.20" font-size="19.20" font-weight="normal" font-style="normal" fill="#111" textLength="20.98" lengthAdjust="spacingAndGlyphs">(c)</text>
<text x="350.15" y="357.00" font-size="19.20" font-weight="normal" font-style="normal" fill="#111" textLength="23.45" lengthAdjust="spacingAndGlyphs">(d)</text>
<text x="87.22" y="17.80" font-size="13.80" font-weight="bold" font-style="normal" fill="#2f5aa8" textLength="24.08" lengthAdjust="spacingAndGlyphs" stroke="#2f5aa8" stroke-width="0.35">PrO</text>
<text x="111.66" y="21.40" font-size="9.30" font-weight="bold" font-style="italic" fill="#2f5aa8" textLength="3.93" lengthAdjust="spacingAndGlyphs" stroke="#2f5aa8" stroke-width="0.35">x</text>
<text x="225.15" y="17.60" font-size="13.80" font-weight="bold" font-style="normal" fill="#c8621f" textLength="63.53" lengthAdjust="spacingAndGlyphs" stroke="#c8621f" stroke-width="0.35">LSCF+PrO</text>
<text x="287.63" y="21.00" font-size="10.00" font-weight="bold" font-style="italic" fill="#c8621f" textLength="3.58" lengthAdjust="spacingAndGlyphs" stroke="#c8621f" stroke-width="0.35">x</text>
<text x="34.88" y="33.70" font-size="11.60" font-weight="bold" font-style="normal" fill="#111" textLength="11.32" lengthAdjust="spacingAndGlyphs" stroke="#111" stroke-width="0.35">Pr</text>
<text x="50.30" y="33.70" font-size="11.60" font-weight="bold" font-style="italic" fill="#111" textLength="11.49" lengthAdjust="spacingAndGlyphs" stroke="#111" stroke-width="0.35">M</text>
<text x="61.64" y="36.50" font-size="8.40" font-weight="bold" font-style="normal" fill="#111" textLength="4.89" lengthAdjust="spacingAndGlyphs">5</text>
<text x="65.80" y="33.70" font-size="11.60" font-weight="bold" font-style="normal" fill="#111" textLength="31.56" lengthAdjust="spacingAndGlyphs" stroke="#111" stroke-width="0.35">-edge</text>
<text x="103.35" y="38.50" font-size="11.60" font-weight="bold" font-style="normal" fill="#111" textLength="11.75" lengthAdjust="spacingAndGlyphs" stroke="#111" stroke-width="0.35">Pr</text>
<text x="118.78" y="38.50" font-size="11.60" font-weight="bold" font-style="italic" fill="#111" textLength="12.50" lengthAdjust="spacingAndGlyphs" stroke="#111" stroke-width="0.35">M</text>
<text x="130.57" y="41.30" font-size="8.40" font-weight="bold" font-style="normal" fill="#111" textLength="4.78" lengthAdjust="spacingAndGlyphs">4</text>
<text x="135.00" y="38.50" font-size="11.60" font-weight="bold" font-style="normal" fill="#111" textLength="31.46" lengthAdjust="spacingAndGlyphs" stroke="#111" stroke-width="0.35">-edge</text>
<text x="188.35" y="34.00" font-size="11.60" font-weight="bold" font-style="normal" fill="#111" textLength="11.75" lengthAdjust="spacingAndGlyphs" stroke="#111" stroke-width="0.35">Pr</text>
<text x="203.79" y="34.00" font-size="11.60" font-weight="bold" font-style="italic" fill="#111" textLength="11.99" lengthAdjust="spacingAndGlyphs" stroke="#111" stroke-width="0.35">M</text>
<text x="215.95" y="36.80" font-size="8.40" font-weight="bold" font-style="normal" fill="#111" textLength="4.56" lengthAdjust="spacingAndGlyphs">5</text>
<text x="220.00" y="34.00" font-size="11.60" font-weight="bold" font-style="normal" fill="#111" textLength="31.67" lengthAdjust="spacingAndGlyphs" stroke="#111" stroke-width="0.35">-edge</text>
<text x="258.35" y="38.30" font-size="11.60" font-weight="bold" font-style="normal" fill="#111" textLength="11.75" lengthAdjust="spacingAndGlyphs" stroke="#111" stroke-width="0.35">Pr</text>
<text x="273.79" y="38.30" font-size="11.60" font-weight="bold" font-style="italic" fill="#111" textLength="11.99" lengthAdjust="spacingAndGlyphs" stroke="#111" stroke-width="0.35">M</text>
<text x="285.57" y="41.10" font-size="8.40" font-weight="bold" font-style="normal" fill="#111" textLength="4.78" lengthAdjust="spacingAndGlyphs">4</text>
<text x="290.01" y="38.30" font-size="11.60" font-weight="bold" font-style="normal" fill="#111" textLength="31.15" lengthAdjust="spacingAndGlyphs" stroke="#111" stroke-width="0.35">-edge</text>
<text x="37.14" y="55.80" font-size="13.80" font-weight="bold" font-style="normal" fill="#4f8a35" textLength="13.59" lengthAdjust="spacingAndGlyphs" stroke="#4f8a35" stroke-width="0.35">Pr</text>
<text x="51.05" y="51.00" font-size="9.40" font-weight="bold" font-style="normal" fill="#4f8a35" textLength="10.23" lengthAdjust="spacingAndGlyphs" stroke="#4f8a35" stroke-width="0.35">3+</text>
<text x="73.28" y="64.80" font-size="13.80" font-weight="bold" font-style="normal" fill="#b38d50" textLength="12.94" lengthAdjust="spacingAndGlyphs" stroke="#b38d50" stroke-width="0.35">Pr</text>
<text x="86.22" y="60.50" font-size="9.40" font-weight="bold" font-style="normal" fill="#b38d50" textLength="11.61" lengthAdjust="spacingAndGlyphs" stroke="#b38d50" stroke-width="0.35">4+</text>
<text x="193.18" y="54.30" font-size="13.80" font-weight="bold" font-style="normal" fill="#4f8a35" textLength="12.94" lengthAdjust="spacingAndGlyphs" stroke="#4f8a35" stroke-width="0.35">Pr</text>
<text x="206.54" y="49.60" font-size="9.40" font-weight="bold" font-style="normal" fill="#4f8a35" textLength="10.66" lengthAdjust="spacingAndGlyphs" stroke="#4f8a35" stroke-width="0.35">3+</text>
<text x="227.38" y="63.30" font-size="13.80" font-weight="bold" font-style="normal" fill="#b38d50" textLength="12.94" lengthAdjust="spacingAndGlyphs" stroke="#b38d50" stroke-width="0.35">Pr</text>
<text x="240.32" y="59.10" font-size="9.40" font-weight="bold" font-style="normal" fill="#b38d50" textLength="11.61" lengthAdjust="spacingAndGlyphs" stroke="#b38d50" stroke-width="0.35">4+</text>
<text x="128.93" y="57.20" font-size="14.40" font-weight="bold" font-style="normal" fill="#8eb0fb" textLength="31.97" lengthAdjust="spacingAndGlyphs" stroke="#8eb0fb" stroke-width="0.35">0.6 V</text>
<text x="139.52" y="143.00" font-size="14.40" font-weight="bold" font-style="normal" fill="#5a7ee8" textLength="20.99" lengthAdjust="spacingAndGlyphs" stroke="#5a7ee8" stroke-width="0.35">0 V</text>
<text x="116.42" y="216.80" font-size="14.40" font-weight="bold" font-style="normal" fill="#3a4cc0" textLength="44.53" lengthAdjust="spacingAndGlyphs" stroke="#3a4cc0" stroke-width="0.35">-1.30 V</text>
<text x="286.13" y="57.20" font-size="14.40" font-weight="bold" font-style="normal" fill="#f4987a" textLength="31.76" lengthAdjust="spacingAndGlyphs" stroke="#f4987a" stroke-width="0.35">0.5 V</text>
<text x="294.33" y="140.90" font-size="14.40" font-weight="bold" font-style="normal" fill="#e0604a" textLength="20.58" lengthAdjust="spacingAndGlyphs" stroke="#e0604a" stroke-width="0.35">0 V</text>
<text x="273.42" y="217.00" font-size="14.40" font-weight="bold" font-style="normal" fill="#be1038" textLength="44.53" lengthAdjust="spacingAndGlyphs" stroke="#be1038" stroke-width="0.35">-1.15 V</text>
<text x="25.80" y="310.20" font-size="14.80" font-weight="normal" font-style="normal" fill="#111" textLength="25.79" lengthAdjust="spacingAndGlyphs">920</text>
<text x="87.27" y="310.20" font-size="14.80" font-weight="normal" font-style="normal" fill="#111" textLength="26.95" lengthAdjust="spacingAndGlyphs">940</text>
<text x="149.29" y="310.20" font-size="14.80" font-weight="normal" font-style="normal" fill="#111" textLength="26.32" lengthAdjust="spacingAndGlyphs">960</text>
<text x="182.29" y="310.20" font-size="14.80" font-weight="normal" font-style="normal" fill="#111" textLength="26.32" lengthAdjust="spacingAndGlyphs">920</text>
<text x="244.28" y="310.20" font-size="14.80" font-weight="normal" font-style="normal" fill="#111" textLength="26.84" lengthAdjust="spacingAndGlyphs">940</text>
<text x="305.78" y="310.20" font-size="14.80" font-weight="normal" font-style="normal" fill="#111" textLength="26.84" lengthAdjust="spacingAndGlyphs">960</text>
<text x="29.86" y="325.30" font-size="14.80" font-weight="normal" font-style="normal" fill="#111" textLength="136.12" lengthAdjust="spacingAndGlyphs">Photon Energy (eV)</text>
<text x="186.76" y="325.30" font-size="14.80" font-weight="normal" font-style="normal" fill="#111" textLength="135.71" lengthAdjust="spacingAndGlyphs">Photon Energy (eV)</text>
<text transform="rotate(-90)" x="-279.49" y="27.50" font-size="14.90" font-weight="normal" fill="#111" textLength="223.02" lengthAdjust="spacingAndGlyphs">Normalized Intensity (arb.units)</text>
<text x="392.84" y="298.00" font-size="13.90" font-weight="normal" font-style="normal" fill="#111" textLength="20.48" lengthAdjust="spacingAndGlyphs">0.0</text>
<text x="393.06" y="250.10" font-size="13.90" font-weight="normal" font-style="normal" fill="#111" textLength="20.48" lengthAdjust="spacingAndGlyphs">0.2</text>
<text x="392.76" y="202.20" font-size="13.90" font-weight="normal" font-style="normal" fill="#111" textLength="20.48" lengthAdjust="spacingAndGlyphs">0.4</text>
<text x="392.91" y="154.30" font-size="13.90" font-weight="normal" font-style="normal" fill="#111" textLength="20.48" lengthAdjust="spacingAndGlyphs">0.6</text>
<text x="392.91" y="106.40" font-size="13.90" font-weight="normal" font-style="normal" fill="#111" textLength="20.48" lengthAdjust="spacingAndGlyphs">0.8</text>
<text x="392.84" y="58.50" font-size="13.90" font-weight="normal" font-style="normal" fill="#111" textLength="20.48" lengthAdjust="spacingAndGlyphs">1.0</text>
<text x="467.85" y="308.20" font-size="13.90" font-weight="normal" font-style="normal" fill="#111" textLength="16.80" lengthAdjust="spacingAndGlyphs">−2</text>
<text x="538.16" y="308.20" font-size="13.90" font-weight="normal" font-style="normal" fill="#111" textLength="16.80" lengthAdjust="spacingAndGlyphs">−1</text>
<text x="611.99" y="308.20" font-size="13.90" font-weight="normal" font-style="normal" fill="#111" textLength="9.15" lengthAdjust="spacingAndGlyphs">0</text>
<text x="436.80" y="323.20" font-size="14.50" font-weight="normal" font-style="normal" fill="#111" textLength="215.14" lengthAdjust="spacingAndGlyphs">Oxygen chemical potential (eV)</text>
<text x="583.57" y="52.30" font-size="14.50" font-weight="normal" font-style="normal" fill="#111" textLength="69.72" lengthAdjust="spacingAndGlyphs">LSCF+PrO</text>
<text x="653.22" y="54.60" font-size="10.30" font-weight="normal" font-style="italic" fill="#111" textLength="5.26" lengthAdjust="spacingAndGlyphs">x</text>
<text x="583.58" y="72.10" font-size="14.50" font-weight="normal" font-style="normal" fill="#111" textLength="25.00" lengthAdjust="spacingAndGlyphs">PrO</text>
<text x="608.41" y="74.60" font-size="10.30" font-weight="normal" font-style="italic" fill="#111" textLength="5.18" lengthAdjust="spacingAndGlyphs">x</text>
<text x="583.46" y="92.30" font-size="14.50" font-weight="normal" font-style="normal" fill="#111" textLength="70.23" lengthAdjust="spacingAndGlyphs">Difference</text>
<text transform="rotate(-90)" x="-243.12" y="386.90" font-size="14.50" font-weight="normal" fill="#111" textLength="14.00" lengthAdjust="spacingAndGlyphs">Pr</text>
<text transform="rotate(-90)" x="-229.67" y="380.90" font-size="9.90" font-weight="normal" fill="#111" textLength="6.56" lengthAdjust="spacingAndGlyphs">3</text>
<text transform="rotate(-90)" x="-221.60" y="382.70" font-size="13.20" font-weight="normal" fill="#111" textLength="8.19" lengthAdjust="spacingAndGlyphs">+</text>
<text transform="rotate(-90)" x="-206.84" y="386.90" font-size="14.50" font-weight="normal" fill="#111" textLength="127.24" lengthAdjust="spacingAndGlyphs">fraction (arb.units)</text>
<text x="39.52" y="364.90" font-size="16.40" font-weight="normal" font-style="normal" fill="#111" textLength="19.02" lengthAdjust="spacingAndGlyphs">10</text>
<text x="60.03" y="358.90" font-size="11.50" font-weight="normal" font-style="normal" fill="#111" textLength="6.49" lengthAdjust="spacingAndGlyphs">0</text>
<text x="30.26" y="493.80" font-size="16.40" font-weight="normal" font-style="normal" fill="#111" textLength="19.91" lengthAdjust="spacingAndGlyphs">10</text>
<text x="50.49" y="488.00" font-size="11.50" font-weight="normal" font-style="normal" fill="#111" textLength="16.15" lengthAdjust="spacingAndGlyphs">−1</text>
<text x="30.26" y="622.60" font-size="16.40" font-weight="normal" font-style="normal" fill="#111" textLength="19.91" lengthAdjust="spacingAndGlyphs">10</text>
<text x="50.49" y="616.40" font-size="11.50" font-weight="normal" font-style="normal" fill="#111" textLength="16.23" lengthAdjust="spacingAndGlyphs">−2</text>
<text x="52.86" y="645.40" font-size="16.40" font-weight="normal" font-style="normal" fill="#111" textLength="37.07" lengthAdjust="spacingAndGlyphs">−0.6</text>
<text x="109.87" y="645.40" font-size="16.40" font-weight="normal" font-style="normal" fill="#111" textLength="36.88" lengthAdjust="spacingAndGlyphs">−0.4</text>
<text x="166.86" y="645.40" font-size="16.40" font-weight="normal" font-style="normal" fill="#111" textLength="37.27" lengthAdjust="spacingAndGlyphs">−0.2</text>
<text x="230.21" y="645.40" font-size="16.40" font-weight="normal" font-style="normal" fill="#111" textLength="23.89" lengthAdjust="spacingAndGlyphs">0.0</text>
<text x="287.20" y="645.40" font-size="16.40" font-weight="normal" font-style="normal" fill="#111" textLength="24.17" lengthAdjust="spacingAndGlyphs">0.2</text>
<text x="75.40" y="663.00" font-size="17.00" font-weight="normal" font-style="normal" fill="#111" textLength="247.99" lengthAdjust="spacingAndGlyphs">Oxygen chemical potential (eV)</text>
<text transform="rotate(-90)" x="-568.43" y="24.90" font-size="17.00" font-weight="normal" fill="#111" textLength="148.85" lengthAdjust="spacingAndGlyphs">Hole concentration</text>
<text x="226.11" y="565.80" font-size="16.80" font-weight="normal" font-style="normal" fill="#111" textLength="38.11" lengthAdjust="spacingAndGlyphs">LSCF</text>
<text x="226.00" y="588.90" font-size="16.80" font-weight="normal" font-style="normal" fill="#111" textLength="79.98" lengthAdjust="spacingAndGlyphs">LSCF+PrO</text>
<text x="306.36" y="591.00" font-size="11.80" font-weight="normal" font-style="italic" fill="#111" textLength="5.70" lengthAdjust="spacingAndGlyphs">x</text>
<text x="225.69" y="611.50" font-size="16.80" font-weight="normal" font-style="normal" fill="#111" textLength="11.39" lengthAdjust="spacingAndGlyphs">Δ</text>
<text x="241.28" y="611.50" font-size="16.80" font-weight="normal" font-style="normal" fill="#111" textLength="18.11" lengthAdjust="spacingAndGlyphs">[h</text>
<text x="263.51" y="611.50" font-size="16.80" font-weight="normal" font-style="normal" fill="#111" textLength="4.86" lengthAdjust="spacingAndGlyphs">]</text>
<circle cx="261" cy="601.6" r="0.7" fill="#111"/>
<text x="383.24" y="361.90" font-size="16.20" font-weight="normal" font-style="normal" fill="#111" textLength="18.69" lengthAdjust="spacingAndGlyphs">10</text>
<text x="403.02" y="355.80" font-size="11.30" font-weight="normal" font-style="normal" fill="#111" textLength="6.67" lengthAdjust="spacingAndGlyphs">3</text>
<text x="383.24" y="423.90" font-size="16.20" font-weight="normal" font-style="normal" fill="#111" textLength="18.69" lengthAdjust="spacingAndGlyphs">10</text>
<text x="402.87" y="417.80" font-size="11.30" font-weight="normal" font-style="normal" fill="#111" textLength="6.97" lengthAdjust="spacingAndGlyphs">2</text>
<text x="383.24" y="485.90" font-size="16.20" font-weight="normal" font-style="normal" fill="#111" textLength="18.69" lengthAdjust="spacingAndGlyphs">10</text>
<text x="402.52" y="479.80" font-size="11.30" font-weight="normal" font-style="normal" fill="#111" textLength="7.29" lengthAdjust="spacingAndGlyphs">1</text>
<text x="383.24" y="547.90" font-size="16.20" font-weight="normal" font-style="normal" fill="#111" textLength="18.69" lengthAdjust="spacingAndGlyphs">10</text>
<text x="403.02" y="541.80" font-size="11.30" font-weight="normal" font-style="normal" fill="#111" textLength="6.60" lengthAdjust="spacingAndGlyphs">0</text>
<text x="373.73" y="609.90" font-size="16.20" font-weight="normal" font-style="normal" fill="#111" textLength="18.91" lengthAdjust="spacingAndGlyphs">10</text>
<text x="393.27" y="603.80" font-size="11.30" font-weight="normal" font-style="normal" fill="#111" textLength="16.58" lengthAdjust="spacingAndGlyphs">−1</text>
<text x="402.72" y="643.10" font-size="16.20" font-weight="normal" font-style="normal" fill="#111" textLength="23.74" lengthAdjust="spacingAndGlyphs">0.2</text>
<text x="498.30" y="643.10" font-size="16.20" font-weight="normal" font-style="normal" fill="#111" textLength="23.56" lengthAdjust="spacingAndGlyphs">0.3</text>
<text x="566.13" y="643.10" font-size="16.20" font-weight="normal" font-style="normal" fill="#111" textLength="23.38" lengthAdjust="spacingAndGlyphs">0.4</text>
<text x="618.72" y="643.10" font-size="16.20" font-weight="normal" font-style="normal" fill="#111" textLength="23.56" lengthAdjust="spacingAndGlyphs">0.5</text>
<text x="661.70" y="643.10" font-size="16.20" font-weight="normal" font-style="normal" fill="#111" textLength="23.56" lengthAdjust="spacingAndGlyphs">0.6</text>
<text x="437.42" y="659.50" font-size="15.60" font-weight="normal" font-style="normal" fill="#111" textLength="208.38" lengthAdjust="spacingAndGlyphs">Electron hole concentration</text>
<text x="495.44" y="676.50" font-size="15.60" font-weight="normal" font-style="normal" fill="#111" textLength="102.01" lengthAdjust="spacingAndGlyphs">(per unit cell)</text>
<text transform="rotate(-90)" x="-576.77" y="369.00" font-size="17.00" font-weight="normal" fill="#111" textLength="171.63" lengthAdjust="spacingAndGlyphs">Current density (A/m²)</text>
<text x="469.02" y="373.60" font-size="11.60" font-weight="normal" font-style="normal" fill="#111" textLength="62.49" lengthAdjust="spacingAndGlyphs">1000 mbar</text>
<text x="469.49" y="390.20" font-size="11.60" font-weight="normal" font-style="normal" fill="#111" textLength="54.06" lengthAdjust="spacingAndGlyphs">500 mbar</text>
<text x="469.36" y="406.80" font-size="11.60" font-weight="normal" font-style="normal" fill="#111" textLength="54.19" lengthAdjust="spacingAndGlyphs">213 mbar</text>
<text x="469.03" y="423.40" font-size="11.60" font-weight="normal" font-style="normal" fill="#111" textLength="54.52" lengthAdjust="spacingAndGlyphs">100 mbar</text>
<text x="469.48" y="440.00" font-size="11.60" font-weight="normal" font-style="normal" fill="#111" textLength="47.66" lengthAdjust="spacingAndGlyphs">50 mbar</text>
<text x="469.35" y="456.60" font-size="11.60" font-weight="normal" font-style="normal" fill="#111" textLength="47.79" lengthAdjust="spacingAndGlyphs">25 mbar</text>
<text x="469.02" y="473.20" font-size="11.60" font-weight="normal" font-style="normal" fill="#111" textLength="48.13" lengthAdjust="spacingAndGlyphs">10 mbar</text>
<text x="469.02" y="489.80" font-size="11.60" font-weight="normal" font-style="normal" fill="#111" textLength="40.50" lengthAdjust="spacingAndGlyphs">1 mbar</text>
<text x="469.48" y="506.40" font-size="11.60" font-weight="normal" font-style="normal" fill="#111" textLength="51.64" lengthAdjust="spacingAndGlyphs">0.1 mbar</text>
<text x="614.59" y="463.90" font-size="16.00" font-weight="bold" font-style="normal" fill="#e0604c" textLength="18.34" lengthAdjust="spacingAndGlyphs" stroke="#e0604c" stroke-width="0.35">10</text>
<text x="589.85" y="499.80" font-size="15.70" font-weight="bold" font-style="normal" fill="#e0604c" textLength="71.50" lengthAdjust="spacingAndGlyphs" stroke="#e0604c" stroke-width="0.35">LSCF+PrO</text>
<text x="662.41" y="504.00" font-size="11.00" font-weight="bold" font-style="italic" fill="#e0604c" textLength="4.63" lengthAdjust="spacingAndGlyphs" stroke="#e0604c" stroke-width="0.35">x</text>
<text x="531.04" y="572.80" font-size="15.70" font-weight="bold" font-style="normal" fill="#4a60d6" textLength="8.06" lengthAdjust="spacingAndGlyphs" stroke="#4a60d6" stroke-width="0.35">5</text>
<text x="522.83" y="602.60" font-size="16.10" font-weight="bold" font-style="normal" fill="#4a60d6" textLength="33.86" lengthAdjust="spacingAndGlyphs" stroke="#4a60d6" stroke-width="0.35">LSCF</text>
</svg>
</body></html>
